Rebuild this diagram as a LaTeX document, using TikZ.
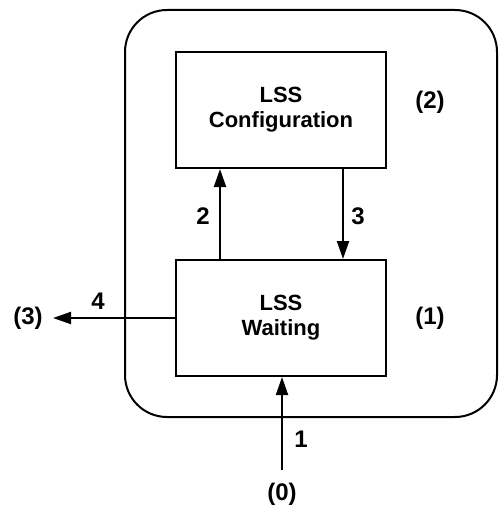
\documentclass[tikz,border=0pt]{standalone}
\usepackage{fontspec}
\setmainfont{Liberation Sans}
\usetikzlibrary{arrows.meta}
\begin{document}
\begin{tikzpicture}[x=1pt,y=-1pt,
  line width=2pt,
  txt/.style={font=\fontsize{24}{28}\selectfont\bfseries, inner sep=0pt},
  statebox/.style={draw, minimum width=210pt, minimum height=116pt, inner sep=0pt, align=center, font=\fontsize{22}{25}\selectfont\bfseries},
  flow/.style={-{Triangle[length=18pt,width=12pt]}}
]
\useasboundingbox (0,0) rectangle (499,511);
% enclosing LSS state area
\draw[rounded corners=42pt] (125,10) rectangle (497,417);
% states
\node[statebox] (cfg) at (281,110) {LSS\\Configuration};
\node[statebox] (wait) at (281,318) {LSS\\Waiting};
% free ends
\coordinate (in) at (282,470);
\coordinate (out) at (53,318);
% transition labels / state numbers
\node[txt] (s0) at (282,494) {(0)};
\node[txt] (s1) at (430,318) {(1)};
\node[txt] (s2) at (430,102) {(2)};
\node[txt] (s3) at (28,318) {(3)};
\node[txt] (t1) at (301,439) {1};
\node[txt] (t2) at (203,216) {2};
\node[txt] (t3) at (358,216) {3};
\node[txt] (t4) at (98,301) {4};
% transitions
\draw[flow] (in) -- (in |- wait.south);
\draw[flow] (wait.north -| 220,0) -- (cfg.south -| 220,0);
\draw[flow] (cfg.south -| 343,0) -- (wait.north -| 343,0);
\draw[flow] (wait.west) -- (out);
\end{tikzpicture}
\end{document}
